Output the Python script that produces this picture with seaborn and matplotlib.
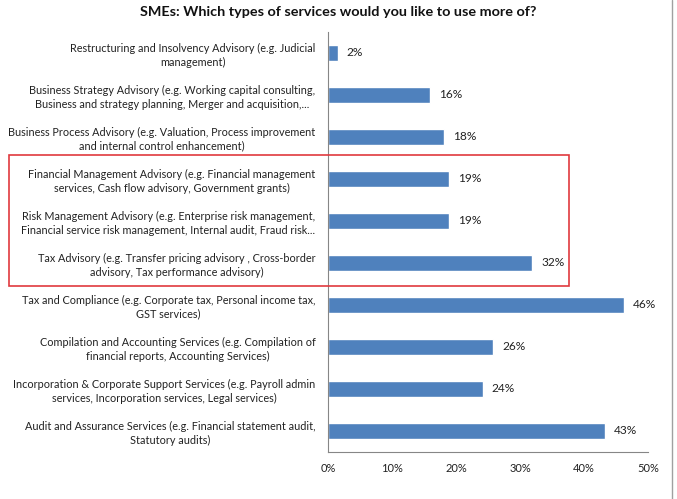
import matplotlib
matplotlib.use('Agg')
import matplotlib.pyplot as plt
import matplotlib.patches as mpatches
import seaborn as sns
import pandas as pd

categories = [
    'Restructuring and Insolvency Advisory (e.g. Judicial\nmanagement)',
    'Business Strategy Advisory (e.g. Working capital consulting,\nBusiness and strategy planning, Merger and acquisition,...',
    'Business Process Advisory (e.g. Valuation, Process improvement\nand internal control enhancement)',
    'Financial Management Advisory (e.g. Financial management\nservices, Cash flow advisory, Government grants)',
    'Risk Management Advisory (e.g. Enterprise risk management,\nFinancial service risk management, Internal audit, Fraud risk...',
    'Tax Advisory (e.g. Transfer pricing advisory , Cross-border\nadvisory, Tax performance advisory)',
    'Tax and Compliance (e.g. Corporate tax, Personal income tax,\nGST services)',
    'Compilation and Accounting Services (e.g. Compilation of\nfinancial reports, Accounting Services)',
    'Incorporation & Corporate Support Services (e.g. Payroll admin\nservices, Incorporation services, Legal services)',
    'Audit and Assurance Services (e.g. Financial statement audit,\nStatutory audits)',
]
values = [1.5, 16.0, 18.2, 18.9, 18.9, 31.9, 46.3, 25.8, 24.2, 43.3]
value_labels = ['2%', '16%', '18%', '19%', '19%', '32%', '46%', '26%', '24%', '43%']
x_ticks = [0, 10, 20, 30, 40, 50]

df = pd.DataFrame({'service': categories, 'share': values})

sns.set_style('white')
plt.rcParams['font.family'] = ['Lato', 'DejaVu Sans']

fig = plt.figure(figsize=(6.77, 4.99), dpi=100)
ax = fig.add_axes([328 / 677, 1 - 452 / 499, 320 / 677, 420 / 499])

sns.barplot(data=df, y='service', x='share', orient='h', color='#4F81BD',
            width=0.38, saturation=1, ax=ax)

for i, (v, lab) in enumerate(zip(values, value_labels)):
    ax.text(v + 1.4, i, lab, va='center', ha='left', fontsize=8.6, color='#222222')

ax.set_xlim(0, 50)
ax.set_ylim(9.5, -0.5)
ax.set_xticks(x_ticks)
ax.set_xticklabels(['{}%'.format(t) for t in x_ticks], fontsize=8, color='#222222')
ax.set_xlabel('')
ax.set_ylabel('')
ax.tick_params(axis='y', length=0, pad=9, labelsize=7.85, labelcolor='#222222')
for t in ax.get_yticklabels():
    t.set_multialignment('center')
    t.set_linespacing(1.3)
ax.set_yticks([i + 0.5 for i in range(-1, 10)], minor=True)
ax.tick_params(axis='y', which='minor', length=4, color='#868686', direction='out', width=0.8)
ax.tick_params(axis='x', length=4, color='#868686', direction='out', width=0.8, pad=4)

for s in ['top', 'right']:
    ax.spines[s].set_visible(False)
for s in ['left', 'bottom']:
    ax.spines[s].set_color('#868686')
    ax.spines[s].set_linewidth(0.8)

fig.text(338 / 677, 1 - 12 / 499, 'SMEs: Which types of services would you like to use more of?',
         ha='center', va='center', fontsize=10.4, fontweight='bold', color='#111111')

# red highlight box
fig.add_artist(mpatches.Rectangle((9 / 677, 1 - 286 / 499), 560 / 677, 131 / 499,
                                  transform=fig.transFigure, fill=False,
                                  edgecolor='#E0393E', linewidth=1.2))
# chart border on the right
fig.add_artist(plt.Line2D([672 / 677, 672 / 677], [0, 1], transform=fig.transFigure,
                          color='#A0A0A0', linewidth=1))

fig.savefig('out.png', dpi=100)
